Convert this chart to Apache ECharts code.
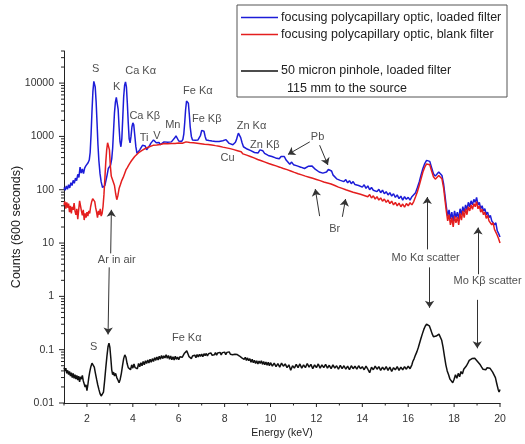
<!DOCTYPE html>
<html><head><meta charset="utf-8">
<script src="https://cdn.jsdelivr.net/npm/echarts@6/dist/echarts.min.js"></script>
<style>html,body{margin:0;padding:0;background:#fff}#c{width:525px;height:444px}</style>
</head><body><div id="c"></div>
<script>
// ---- data (energy keV, counts per 600 s) ----
const blueSpectrum = [
[1.00,110],[1.05,98],[1.10,118],[1.15,102],[1.20,124],[1.25,108],[1.30,135],[1.35,120],[1.40,150],[1.45,132],[1.50,165],[1.55,148],[1.60,195],[1.65,170],[1.70,265],[1.75,205],[1.80,245],[1.85,200],[1.90,255],[1.95,280],
[2.00,305],[2.05,320],[2.10,360],[2.14,500],[2.18,1100],[2.22,3000],[2.26,7000],[2.30,10800],[2.33,11000],[2.36,8500],[2.40,4500],[2.44,1800],[2.48,700],[2.52,350],[2.57,200],[2.62,140],[2.68,110],[2.73,105],[2.78,120],[2.83,150],
[2.88,190],[2.93,250],[2.98,240],[3.03,290],[3.08,380],[3.12,600],[3.16,1300],[3.20,2800],[3.24,4400],[3.28,5400],[3.32,5000],[3.36,3200],[3.40,1500],[3.44,800],[3.48,640],[3.52,900],[3.56,2200],[3.60,5500],[3.64,9000],[3.68,10500],
[3.72,8500],[3.76,4200],[3.80,1800],[3.84,900],[3.88,760],[3.92,1000],[3.96,1500],[4.00,1800],[4.04,1650],[4.08,1100],[4.13,650],[4.18,480],[4.24,520],[4.30,560],[4.36,600],[4.42,680],[4.48,720],[4.54,660],[4.60,560],[4.66,580],
[4.72,660],[4.78,740],[4.84,800],[4.90,860],[4.96,830],[5.02,760],[5.08,720],[5.14,770],[5.20,700],[5.28,750],[5.36,790],[5.44,740],[5.52,780],[5.60,730],[5.68,790],[5.75,830],[5.82,930],[5.88,1020],[5.94,960],[6.00,820],
[6.06,780],[6.12,800],[6.18,880],[6.22,1100],[6.26,1800],[6.30,3200],[6.34,4600],[6.38,5000],[6.42,4200],[6.46,2600],[6.50,1500],[6.55,1000],[6.60,860],[6.66,820],[6.72,850],[6.78,810],[6.84,860],[6.90,900],[6.95,1050],[7.00,1300],
[7.05,1400],[7.10,1250],[7.15,1000],[7.20,860],[7.26,800],[7.32,840],[7.38,790],[7.45,820],[7.52,770],[7.60,800],[7.68,760],[7.76,800],[7.84,780],[7.92,830],[8.00,850],[8.06,870],[8.12,810],[8.20,740],[8.28,710],[8.36,700],
[8.42,730],[8.47,780],[8.52,880],[8.56,1020],[8.60,1150],[8.65,1120],[8.70,950],[8.76,760],[8.82,640],[8.90,620],[8.98,580],[9.06,600],[9.14,540],[9.22,560],[9.30,500],[9.38,520],[9.46,490],[9.54,560],[9.60,580],[9.66,540],
[9.74,480],[9.82,500],[9.90,440],[9.98,460],[10.06,420],[10.14,440],[10.22,395],[10.30,410],[10.38,380],[10.46,420],[10.54,450],[10.60,420],[10.68,360],[10.76,340],[10.84,300],[10.92,330],[11.00,295],[11.08,315],[11.16,280],[11.24,300],
[11.32,265],[11.40,280],[11.48,250],[11.56,265],[11.64,275],[11.72,290],[11.80,280],[11.88,260],[11.96,240],[12.04,230],[12.12,215],[12.20,230],[12.28,205],[12.36,220],[12.44,215],[12.52,240],[12.60,245],[12.66,225],[12.72,190],[12.80,180],
[12.88,160],[12.96,172],[13.04,150],[13.12,162],[13.20,142],[13.28,155],[13.36,135],[13.44,148],[13.52,130],[13.60,142],[13.68,125],[13.76,136],[13.84,120],[13.92,130],[14.00,112],[14.08,124],[14.16,106],[14.24,118],[14.32,100],[14.40,110],
[14.48,98],[14.56,106],[14.64,92],[14.72,102],[14.80,88],[14.88,98],[14.96,84],[15.04,92],[15.12,80],[15.20,88],[15.28,76],[15.36,84],[15.44,72],[15.52,80],[15.60,68],[15.68,76],[15.76,64],[15.84,74],[15.92,66],[16.00,72],
[16.08,64],[16.16,74],[16.24,70],[16.32,88],[16.40,110],[16.48,140],[16.56,190],[16.64,250],[16.72,310],[16.80,355],[16.87,380],[16.94,340],[17.02,260],[17.10,200],[17.18,180],[17.26,175],[17.33,215],[17.40,220],[17.47,185],[17.54,130],
[17.60,80],[17.66,48],[17.72,32],[17.78,42],[17.84,28],[17.90,38],[17.96,26],[18.02,40],[18.08,30],[18.14,38],[18.20,28],[18.26,44],[18.32,34],[18.38,48],[18.44,38],[18.50,52],[18.56,42],[18.62,58],[18.68,48],[18.74,62],
[18.80,52],[18.86,66],[18.92,58],[18.98,72],[19.04,52],[19.10,58],[19.16,44],[19.22,50],[19.28,40],[19.34,44],[19.40,34],[19.46,38],[19.52,30],[19.58,33],[19.64,26],[19.70,28],[19.76,22],[19.82,24],[19.88,17],[19.94,15],[20.00,13]
];
const redSpectrum = [
[1.00,52],[1.04,60],[1.08,44],[1.12,58],[1.16,46],[1.20,55],[1.24,38],[1.28,50],[1.32,36],[1.36,48],[1.40,42],[1.44,56],[1.48,40],[1.52,34],[1.56,44],[1.60,28],[1.64,42],[1.68,62],[1.72,50],[1.76,40],
[1.80,33],[1.84,42],[1.88,27],[1.92,36],[1.96,30],[2.00,38],[2.04,32],[2.08,40],[2.12,36],[2.16,48],[2.20,58],[2.25,68],[2.30,74],[2.34,60],[2.38,46],[2.42,38],[2.46,30],[2.50,40],[2.54,34],[2.58,44],
[2.62,32],[2.66,36],[2.70,48],[2.74,80],[2.78,160],[2.82,330],[2.86,560],[2.90,760],[2.94,780],[2.98,560],[3.02,280],[3.06,180],[3.10,160],[3.15,150],[3.20,120],[3.25,85],[3.30,65],[3.35,78],[3.40,105],[3.46,125],
[3.52,150],[3.58,170],[3.64,200],[3.70,235],[3.76,260],[3.82,290],[3.88,320],[3.94,350],[4.00,380],[4.08,420],[4.16,455],[4.24,490],[4.32,520],[4.40,545],[4.48,580],[4.56,600],[4.64,630],[4.72,640],[4.80,670],[4.88,680],
[4.96,700],[5.04,690],[5.12,725],[5.20,705],[5.28,745],[5.36,735],[5.44,760],[5.52,725],[5.60,770],[5.68,735],[5.76,765],[5.84,740],[5.92,775],[6.00,750],[6.08,785],[6.16,745],[6.24,770],[6.32,790],[6.40,745],[6.48,770],
[6.56,730],[6.64,760],[6.72,715],[6.80,745],[6.88,705],[6.96,730],[7.04,695],[7.12,715],[7.20,680],[7.28,705],[7.36,665],[7.44,690],[7.52,650],[7.60,672],[7.68,630],[7.76,655],[7.84,610],[7.92,630],[8.00,590],[8.08,610],
[8.16,570],[8.24,590],[8.32,545],[8.40,565],[8.48,525],[8.56,540],[8.64,500],[8.72,515],[8.80,470],[8.88,485],[8.96,445],[9.04,460],[9.12,420],[9.20,435],[9.28,395],[9.36,410],[9.44,370],[9.52,385],[9.60,350],[9.68,365],
[9.76,330],[9.84,345],[9.92,310],[10.00,325],[10.08,295],[10.16,310],[10.24,280],[10.32,290],[10.40,265],[10.48,280],[10.56,250],[10.64,262],[10.72,238],[10.80,250],[10.88,225],[10.96,238],[11.04,212],[11.12,225],[11.20,200],[11.28,212],
[11.36,190],[11.44,200],[11.52,180],[11.60,192],[11.68,172],[11.76,182],[11.84,164],[11.92,174],[12.00,156],[12.08,165],[12.16,148],[12.24,156],[12.32,140],[12.40,150],[12.48,134],[12.56,142],[12.64,128],[12.72,134],[12.80,120],[12.88,128],
[12.96,112],[13.04,120],[13.12,106],[13.20,114],[13.28,100],[13.36,108],[13.44,95],[13.52,103],[13.60,90],[13.68,98],[13.76,86],[13.84,93],[13.92,82],[14.00,89],[14.08,78],[14.16,85],[14.24,74],[14.32,81],[14.40,70],[14.48,77],
[14.56,67],[14.64,74],[14.72,64],[14.80,70],[14.88,61],[14.96,67],[15.04,58],[15.12,64],[15.20,55],[15.28,61],[15.36,52],[15.44,58],[15.52,50],[15.60,56],[15.68,48],[15.76,54],[15.84,47],[15.92,55],[16.00,50],[16.08,57],
[16.16,52],[16.24,60],[16.32,74],[16.40,92],[16.48,120],[16.56,160],[16.64,215],[16.72,265],[16.80,305],[16.87,325],[16.94,295],[17.02,225],[17.10,175],[17.18,158],[17.26,155],[17.33,185],[17.40,190],[17.47,160],[17.54,110],[17.60,66],
[17.66,40],[17.72,26],[17.78,34],[17.84,22],[17.90,30],[17.96,20],[18.02,32],[18.08,24],[18.14,31],[18.20,22],[18.26,36],[18.32,27],[18.38,40],[18.44,30],[18.50,44],[18.56,34],[18.62,48],[18.68,40],[18.74,52],[18.80,43],
[18.86,55],[18.92,48],[18.98,60],[19.04,44],[19.10,50],[19.16,38],[19.22,43],[19.28,34],[19.34,38],[19.40,29],[19.46,33],[19.52,26],[19.58,28],[19.64,22],[19.70,24],[19.76,18],[19.82,19],[19.88,14],[19.94,12],[20.00,10]
];
const blackSpectrum = [
[1.00,0.046],[1.04,0.040],[1.08,0.045],[1.12,0.036],[1.16,0.041],[1.20,0.034],[1.24,0.039],[1.28,0.032],[1.32,0.037],[1.36,0.030],[1.40,0.036],[1.44,0.029],[1.48,0.034],[1.52,0.028],[1.56,0.033],[1.60,0.027],[1.64,0.032],[1.68,0.025],[1.72,0.031],[1.76,0.028],
[1.80,0.033],[1.84,0.026],[1.88,0.024],[1.92,0.020],[1.96,0.022],[2.00,0.017],[2.04,0.022],[2.08,0.030],[2.12,0.038],[2.17,0.048],[2.22,0.056],[2.27,0.057],[2.32,0.047],[2.37,0.036],[2.42,0.028],[2.47,0.022],[2.52,0.018],[2.57,0.015],[2.62,0.0135],[2.67,0.0125],
[2.72,0.016],[2.77,0.026],[2.82,0.045],[2.87,0.075],[2.92,0.115],[2.96,0.133],[3.00,0.110],[3.04,0.070],[3.08,0.042],[3.12,0.034],[3.16,0.038],[3.20,0.032],[3.25,0.036],[3.30,0.030],[3.35,0.027],[3.40,0.024],[3.45,0.028],[3.50,0.036],[3.55,0.050],[3.60,0.068],
[3.65,0.080],[3.70,0.072],[3.75,0.055],[3.80,0.046],[3.85,0.050],[3.90,0.042],[3.95,0.052],[4.00,0.045],[4.05,0.054],[4.10,0.046],[4.15,0.050],[4.20,0.044],[4.25,0.055],[4.30,0.048],[4.35,0.057],[4.40,0.050],[4.45,0.060],[4.50,0.052],[4.55,0.062],[4.60,0.055],
[4.65,0.064],[4.70,0.056],[4.75,0.066],[4.80,0.058],[4.85,0.068],[4.90,0.060],[4.95,0.071],[5.00,0.063],[5.05,0.073],[5.10,0.064],[5.15,0.075],[5.20,0.066],[5.25,0.078],[5.30,0.068],[5.35,0.077],[5.40,0.070],[5.45,0.080],[5.50,0.069],[5.55,0.078],[5.60,0.066],
[5.65,0.076],[5.70,0.065],[5.75,0.074],[5.80,0.064],[5.85,0.075],[5.90,0.066],[5.95,0.073],[6.00,0.065],[6.05,0.074],[6.10,0.068],[6.15,0.072],[6.20,0.078],[6.25,0.086],[6.30,0.092],[6.35,0.095],[6.40,0.084],[6.45,0.074],[6.50,0.079],[6.55,0.068],[6.60,0.076],
[6.65,0.070],[6.70,0.079],[6.75,0.071],[6.80,0.081],[6.85,0.073],[6.90,0.082],[6.95,0.075],[7.00,0.083],[7.05,0.074],[7.10,0.084],[7.15,0.077],[7.20,0.085],[7.25,0.076],[7.30,0.084],[7.35,0.078],[7.40,0.087],[7.45,0.079],[7.50,0.086],[7.55,0.080],[7.60,0.088],
[7.65,0.079],[7.70,0.087],[7.75,0.081],[7.80,0.089],[7.85,0.080],[7.90,0.088],[7.95,0.082],[8.00,0.090],[8.05,0.081],[8.10,0.089],[8.15,0.083],[8.20,0.091],[8.25,0.082],[8.30,0.088],[8.35,0.080],[8.40,0.087],[8.45,0.082],[8.50,0.089],[8.55,0.081],[8.60,0.086],
[8.65,0.076],[8.70,0.080],[8.75,0.070],[8.80,0.076],[8.85,0.066],[8.90,0.072],[8.95,0.063],[9.00,0.070],[9.05,0.062],[9.10,0.068],[9.15,0.058],[9.20,0.066],[9.25,0.057],[9.30,0.063],[9.35,0.055],[9.40,0.062],[9.45,0.054],[9.50,0.061],[9.55,0.055],[9.60,0.062],
[9.65,0.053],[9.70,0.060],[9.75,0.052],[9.80,0.059],[9.85,0.051],[9.90,0.058],[9.95,0.050],[10.00,0.057],[10.08,0.049],[10.16,0.056],[10.24,0.048],[10.32,0.055],[10.40,0.047],[10.48,0.056],[10.56,0.049],[10.64,0.054],[10.72,0.046],[10.80,0.052],[10.88,0.041],[10.96,0.050],
[11.04,0.045],[11.12,0.053],[11.20,0.046],[11.28,0.054],[11.36,0.045],[11.44,0.052],[11.52,0.046],[11.60,0.055],[11.68,0.047],[11.76,0.053],[11.84,0.044],[11.92,0.052],[12.00,0.046],[12.08,0.054],[12.16,0.045],[12.24,0.052],[12.32,0.046],[12.40,0.053],[12.48,0.045],[12.56,0.051],
[12.64,0.044],[12.72,0.052],[12.80,0.045],[12.88,0.050],[12.96,0.043],[13.04,0.051],[13.12,0.044],[13.20,0.050],[13.28,0.043],[13.36,0.049],[13.44,0.042],[13.52,0.050],[13.60,0.044],[13.68,0.049],[13.76,0.043],[13.84,0.050],[13.92,0.044],[14.00,0.048],[14.08,0.042],[14.16,0.049],
[14.24,0.043],[14.32,0.037],[14.40,0.047],[14.48,0.042],[14.56,0.049],[14.64,0.043],[14.72,0.048],[14.80,0.041],[14.88,0.047],[14.96,0.042],[15.04,0.048],[15.12,0.041],[15.20,0.047],[15.28,0.039],[15.36,0.046],[15.44,0.042],[15.52,0.048],[15.60,0.041],[15.68,0.047],[15.76,0.042],
[15.84,0.048],[15.92,0.043],[16.00,0.049],[16.08,0.044],[16.16,0.052],[16.20,0.060],[16.26,0.068],[16.32,0.080],[16.38,0.092],[16.44,0.110],[16.50,0.135],[16.56,0.165],[16.62,0.200],[16.68,0.240],[16.74,0.275],[16.80,0.300],[16.86,0.305],[16.92,0.280],[16.98,0.240],[17.04,0.200],
[17.10,0.175],[17.16,0.168],[17.22,0.180],[17.28,0.192],[17.34,0.196],[17.40,0.180],[17.46,0.150],[17.52,0.110],[17.58,0.075],[17.64,0.052],[17.70,0.040],[17.76,0.034],[17.82,0.028],[17.88,0.030],[17.94,0.024],[18.00,0.028],[18.06,0.034],[18.12,0.029],[18.18,0.036],[18.24,0.031],
[18.30,0.039],[18.36,0.035],[18.42,0.043],[18.48,0.040],[18.54,0.050],[18.60,0.056],[18.66,0.063],[18.72,0.066],[18.78,0.068],[18.84,0.066],[18.90,0.069],[18.96,0.064],[19.02,0.060],[19.08,0.056],[19.14,0.052],[19.20,0.047],[19.26,0.043],[19.32,0.040],[19.38,0.042],[19.44,0.046],
[19.50,0.047],[19.56,0.045],[19.62,0.042],[19.68,0.038],[19.74,0.036],[19.80,0.030],[19.86,0.023],[19.92,0.018],[19.96,0.016],[20.00,0.018]
];
// annotation labels: [text, energy, counts]
const peakLabels = [
['S',2.38,18100],['K',3.30,8400],['Ca K\u03b1',4.34,16600],['Ca K\u03b2',4.52,2430],['Ti',4.49,950],['V',5.05,1035],
['Mn',5.74,1655],['Fe K\u03b1',6.83,7080],['Fe K\u03b2',7.22,2140],['Zn K\u03b1',9.17,1590],['Zn K\u03b2',9.75,705],
['Cu',8.13,387],['Pb',12.05,990],['Br',12.80,18.7],['Ar in air',3.30,4.75],['Mo K\u03b1 scatter',16.76,5.2],
['Mo K\u03b2 scatter',19.46,1.94],['S',2.29,0.111],['Fe K\u03b1',6.35,0.163]
];
// arrows: [tailEnergy, tailCounts, headEnergy, headCounts]
const arrowLines = [
[3.035,6.4,3.065,42],[2.97,3.5,2.92,0.193],
[16.83,7.6,16.83,73],[16.93,3.5,16.93,0.61],
[19.04,2.6,19.04,19.5],[19.01,0.86,19.01,0.106],
[11.71,790,10.76,460],[12.14,684,12.50,291],
[12.14,32,11.95,103],[13.13,31,13.27,67]
];
const xMajorTicks = [2,4,6,8,10,12,14,16,18,20];
const xMinorTicks = [1,3,5,7,9,11,13,15,17,19];
const yMajorTicks = [0.01,0.1,1,10,100,1000,10000];
const yMinorFactors = [2,3,4,5,6,7,8,9];

const yMinorTicks = [];
yMajorTicks.forEach(d => yMinorFactors.forEach(f => { const v = +(d*f).toPrecision(3); if (v <= 40000) yMinorTicks.push(v); }));

const FONT = '"Liberation Sans", Arial, sans-serif';
const tickData = [];
xMajorTicks.forEach(v => tickData.push([v, 0.01, 0, 4]));
xMinorTicks.forEach(v => tickData.push([v, 0.01, 0, 2.5]));
yMajorTicks.forEach(v => tickData.push([1, v, 1, 5]));
yMinorTicks.forEach(v => tickData.push([1, v, 1, 3]));

const chart = echarts.init(document.getElementById('c'), null, {renderer: 'canvas'});
const lineSeries = (name, data, color) => ({
  name, type: 'line', data, showSymbol: false, symbol: 'none', silent: true,
  lineStyle: {color, width: 1.5}, z: 3
});
const option = {
  animation: false,
  backgroundColor: '#fff',
  textStyle: {fontFamily: FONT},
  grid: {left: 64, right: 25, top: 51, bottom: 37},
  xAxis: {
    type: 'value', min: 1, max: 20, interval: 1,
    axisLine: {show: true, lineStyle: {color: '#222', width: 1}},
    axisTick: {show: false}, splitLine: {show: false},
    axisLabel: {color: '#333', fontSize: 10.5, fontFamily: FONT, margin: 11,
      formatter: v => (Math.round(v) % 2 === 0 ? String(Math.round(v)) : '')},
    name: 'Energy (keV)', nameLocation: 'middle', nameGap: 25, nameMoveOverlap: false,
    nameTextStyle: {color: '#222', fontSize: 10.5, fontFamily: FONT}
  },
  yAxis: {
    type: 'log', logBase: 10, min: 0.01, max: 40000, splitNumber: 7,
    axisLine: {show: true, lineStyle: {color: '#222', width: 1}},
    axisTick: {show: false}, splitLine: {show: false}, minorTick: {show: false},
    axisLabel: {color: '#333', fontSize: 10.5, fontFamily: FONT, margin: 10,
      formatter: v => {
        const e = Math.log10(v); const r = Math.round(e);
        if (Math.abs(e - r) > 1e-6) return '';
        return r < 0 ? Math.pow(10, r).toFixed(-r) : String(Math.round(Math.pow(10, r)));
      }},
    name: 'Counts (600 seconds)', nameLocation: 'middle', nameGap: 41, nameRotate: 90, nameMoveOverlap: false,
    nameTextStyle: {color: '#222', fontSize: 12.5, fontFamily: FONT}
  },
  series: [
    lineSeries('black', blackSpectrum, '#111'),
    lineSeries('blue', blueSpectrum, '#1c1cd8'),
    lineSeries('red', redSpectrum, '#e41e1e'),
    {
      type: 'custom', silent: true, clip: false, z: 5,
      data: tickData,
      renderItem: (params, api) => {
        const p = api.coord([api.value(0), api.value(1)]);
        const kind = api.value(2), len = api.value(3);
        const shape = kind === 0
          ? {x1: p[0], y1: p[1], x2: p[0], y2: p[1] + len}
          : {x1: p[0] - len, y1: p[1], x2: p[0], y2: p[1]};
        return {type: 'line', shape, style: {stroke: '#222', lineWidth: 1}};
      }
    },
    {
      type: 'scatter', silent: true, z: 6, symbolSize: 1,
      itemStyle: {color: 'rgba(0,0,0,0)'},
      data: peakLabels.map(d => ({name: d[0], value: [d[1], d[2]]})),
      label: {show: true, position: 'inside', formatter: '{b}', color: '#222', fontSize: 11, fontFamily: FONT},
      markLine: {
        silent: true, animation: false, symbol: ['none', 'arrow'], symbolSize: 7,
        label: {show: false},
        lineStyle: {color: '#333', width: 1, type: 'solid'},
        data: arrowLines.map(a => [{coord: [a[0], a[1]]}, {coord: [a[2], a[3]]}])
      }
    }
  ],
  graphic: [
    {type: 'rect', shape: {x: 237, y: 5, width: 270, height: 92}, style: {fill: '#fff', stroke: '#555', lineWidth: 1}, z: 10},
    {type: 'line', shape: {x1: 241, y1: 17.5, x2: 278, y2: 17.5}, style: {stroke: '#1c1cd8', lineWidth: 1.5}, z: 11},
    {type: 'line', shape: {x1: 241, y1: 34.5, x2: 278, y2: 34.5}, style: {stroke: '#e41e1e', lineWidth: 1.5}, z: 11},
    {type: 'line', shape: {x1: 241, y1: 71, x2: 278, y2: 71}, style: {stroke: '#111', lineWidth: 1.5}, z: 11},
    {type: 'text', x: 281, y: 17.5, style: {text: 'focusing polycapillary optic, loaded filter', fill: '#222', font: '12.5px ' + FONT, verticalAlign: 'middle'}, z: 11},
    {type: 'text', x: 281, y: 34.5, style: {text: 'focusing polycapillary optic, blank filter', fill: '#222', font: '12.5px ' + FONT, verticalAlign: 'middle'}, z: 11},
    {type: 'text', x: 281, y: 71, style: {text: '50 micron pinhole, loaded filter', fill: '#222', font: '12.5px ' + FONT, verticalAlign: 'middle'}, z: 11},
    {type: 'text', x: 287, y: 88.5, style: {text: '115 mm to the source', fill: '#222', font: '12.5px ' + FONT, verticalAlign: 'middle'}, z: 11}
  ]
};
chart.setOption(option);
</script>
</body></html>
